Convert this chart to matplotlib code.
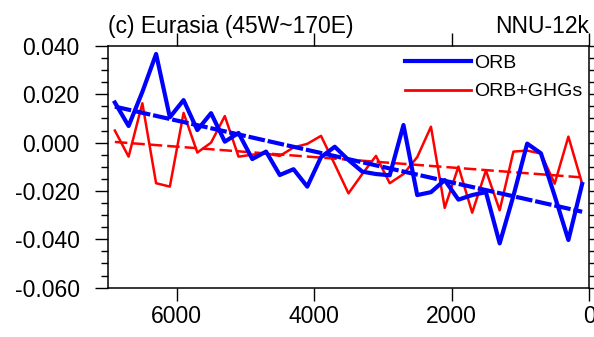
"""Eurasia (45W~170E) NNU-12k: ORB vs ORB+GHGs series with linear trends."""

import matplotlib
matplotlib.use("Agg")
import matplotlib.pyplot as plt
import numpy as np
from matplotlib.ticker import MultipleLocator

plt.rcParams["font.family"] = ["Liberation Sans", "DejaVu Sans"]

# ---------- data ----------------------------------------------------------
years = [6900, 6700, 6500, 6300, 6100, 5900, 5700, 5500, 5300, 5100,
         4900, 4700, 4500, 4300, 4100, 3900, 3700, 3500, 3300, 3100,
         2900, 2700, 2500, 2300, 2100, 1900, 1700, 1500, 1300, 1100,
         900, 700, 500, 300, 100]

orb = [0.0166, 0.0069, 0.0210, 0.0367, 0.0105, 0.0176, 0.0052, 0.0122, 0.0004, 0.0040,
       -0.0068, -0.0037, -0.0134, -0.0110, -0.0182, -0.0060, -0.0017, -0.0072, -0.0120, -0.0130,
       -0.0135, 0.0073, -0.0217, -0.0205, -0.0155, -0.0236, -0.0217, -0.0205, -0.0417, -0.0220,
       -0.0004, -0.0044, -0.0220, -0.0403, -0.0171]

orb_ghg = [0.0050, -0.0058, 0.0163, -0.0168, -0.0182, 0.0123, -0.0041, 0.0000, 0.0110, -0.0058,
           -0.0050, -0.0045, -0.0055, -0.0020, -0.0005, 0.0028, -0.0090, -0.0210, -0.0130, -0.0055,
           -0.0168, -0.0130, -0.0060, 0.0066, -0.0270, -0.0099, -0.0290, -0.0115, -0.0280, -0.0037,
           -0.0033, -0.0045, -0.0170, 0.0025, -0.0170]

title_left = "(c) Eurasia (45W~170E)"
title_right = "NNU-12k"
x_ticks = [6000, 4000, 2000, 0]
y_ticks = [0.040, 0.020, 0.000, -0.020, -0.040, -0.060]


def trend(x, y):
    x = np.asarray(x, dtype=float)
    k, b = np.polyfit(x, np.asarray(y, dtype=float), 1)
    return x, k * x + b


# ---------- plot -----------------------------------------------------------
fig = plt.figure(figsize=(5.94, 3.37), dpi=100)
ax = fig.add_axes([0.1818, 0.1466, 0.8098, 0.7169])

ax.plot(years, orb_ghg, color="red", lw=1.8, label="ORB+GHGs", zorder=3)
tx, ty = trend(years, orb_ghg)
ax.plot(tx, ty, color="red", lw=1.8, dashes=(5.0, 2.0), zorder=3)

ax.plot(years, orb, color="blue", lw=3.0, label="ORB", zorder=4)
tx, ty = trend(years, orb)
ax.plot(tx, ty, color="blue", lw=3.0, dashes=(4.0, 0.7), zorder=4)

ax.set_xlim(7000, 0)
ax.set_ylim(-0.060, 0.040)
ax.set_xticks(x_ticks)
ax.set_xticklabels([f"{v:d}" for v in x_ticks])
ax.set_yticks(y_ticks)
ax.set_yticklabels([f"{v:.3f}" for v in y_ticks])
ax.yaxis.set_minor_locator(MultipleLocator(0.005))

ax.tick_params(which="both", direction="out", top=True, right=True,
               width=1.0, labelsize=16.5)
ax.tick_params(which="major", length=9.5)
ax.tick_params(which="minor", length=4.8)
ax.tick_params(axis="y", pad=11)
ax.tick_params(axis="x", pad=3)
for s in ax.spines.values():
    s.set_linewidth(1.1)

ax.text(0.0, 1.035, title_left, transform=ax.transAxes, fontsize=16.5,
        ha="left", va="bottom")
ax.text(1.0, 1.035, title_right, transform=ax.transAxes, fontsize=16.5,
        ha="right", va="bottom")

h, l = ax.get_legend_handles_labels()
order = [1, 0]
leg = ax.legend([h[i] for i in order], [l[i] for i in order],
                loc="upper left", bbox_to_anchor=(0.607, 0.985), frameon=False,
                fontsize=14, handlelength=3.4, handletextpad=0.15,
                labelspacing=0.55, borderaxespad=0.0, borderpad=0.25)
for line in leg.get_lines():
    line.set_linewidth(2.0)
leg.get_lines()[0].set_linewidth(3.0)

fig.savefig("out.png", dpi=100)
